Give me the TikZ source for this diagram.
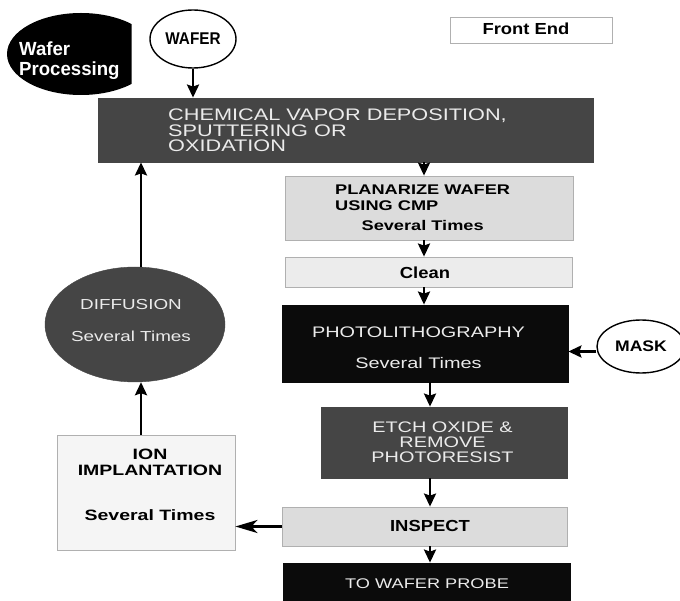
\documentclass[tikz,border=0pt]{standalone}
\usepackage{fontspec}
\usetikzlibrary{arrows.meta,shapes.geometric}
\newfontfamily\rgf{Liberation Sans}[FakeStretch=1.3]
\newfontfamily\bdA{Liberation Sans}[FakeStretch=1.3]
\newfontfamily\bdB{Liberation Sans}[FakeStretch=1.15]
\newfontfamily\bdC{Liberation Sans}[FakeStretch=0.9]
\newfontfamily\bdD{Liberation Sans}[FakeStretch=0.98]
\definecolor{darkbox}{HTML}{454545}
\definecolor{blackbox}{HTML}{0B0B0B}
\definecolor{lightbox}{HTML}{DCDCDC}
\definecolor{paler}{HTML}{ECECEC}
\definecolor{palest}{HTML}{F5F5F5}
\definecolor{edge}{HTML}{B0B0B0}
\definecolor{lighttext}{HTML}{EBEBEB}
\begin{document}
\begin{tikzpicture}[x=1pt,y=-1pt,
  box/.style={rectangle, inner sep=0pt, draw=edge, line width=0.8pt},
  oval/.style={ellipse, inner sep=0pt, draw=black, line width=1.4pt, fill=white},
  txt/.style={inner sep=0pt},
  arr/.style={line width=2.6pt, -{Stealth[length=13pt,width=12pt,inset=2pt]}},
  longarr/.style={line width=2.6pt, -{Stealth[length=22pt,width=13pt,inset=6pt]}}]
\useasboundingbox (0,0) rectangle (680,601);
\fill[white] (0,0) rectangle (680,601);

% Wafer Processing badge
\begin{scope}
  \clip (0,0) rectangle (131.5,120);
  \fill[black] (81,54) ellipse [x radius=74pt, y radius=41pt];
\end{scope}
\node[txt, anchor=west, text=white, align=left,
      font=\bdD\bfseries\fontsize{19}{19.5}\selectfont] (wp) at (19,60.5) {Wafer\\Processing};

% Front End
\node[box, fill=white, minimum width=162pt, minimum height=26pt] (front) at (531,30) {};
\node[txt, font=\bdB\bfseries\fontsize{16}{18}\selectfont] (frontt) at (526,29) {Front End};

% WAFER
\node[oval, minimum width=86pt, minimum height=58pt,
      font=\bdC\bfseries\fontsize{17}{19}\selectfont] (wafer) at (193,39) {WAFER};

% CVD
\node[box, draw=darkbox, fill=darkbox, minimum width=495pt, minimum height=64pt] (cvd) at (345.5,130) {};
\node[txt, anchor=west, align=left, text=lighttext,
      font=\rgf\fontsize{16.7}{15.5}\selectfont] (cvdt) at (168,130.5)
      {CHEMICAL VAPOR DEPOSITION,\\SPUTTERING OR\\OXIDATION};

% Planarize
\node[box, fill=lightbox, minimum width=288pt, minimum height=64pt] (planar) at (429,208) {};
\node[txt, anchor=base west, font=\bdA\bfseries\fontsize{14}{16}\selectfont] (planart) at (335,195)
      {\begin{tabular}[t]{@{}l@{}}PLANARIZE WAFER\\USING CMP\\[4pt]\multicolumn{1}{@{}c@{}}{Several Times}\end{tabular}};

% Clean
\node[box, fill=paler, minimum width=287pt, minimum height=30pt] (clean) at (428.5,272) {};
\node[txt, font=\bdB\bfseries\fontsize{16}{18}\selectfont] (cleant) at (425,272.3) {Clean};

% Photolithography
\node[box, draw=blackbox, fill=blackbox, minimum width=286pt, minimum height=77pt] (photo) at (425,343.5) {};
\node[txt, align=center, text=lighttext,
      font=\rgf\fontsize{15.3}{31}\selectfont] (photot) at (418.5,348) {PHOTOLITHOGRAPHY\\Several Times};

% Mask
\node[oval, minimum width=88pt, minimum height=53pt,
      font=\bdB\bfseries\fontsize{15.3}{17}\selectfont] (mask) at (641,346.5) {MASK};

% Etch
\node[box, draw=darkbox, fill=darkbox, minimum width=246pt, minimum height=71pt] (etch) at (444,442.5) {};
\node[txt, align=center, text=lighttext,
      font=\rgf\fontsize{15.3}{15.3}\selectfont] (etcht) at (442.5,442.4) {ETCH OXIDE \&\\REMOVE\\PHOTORESIST};

% Inspect
\node[box, fill=lightbox, minimum width=285pt, minimum height=39pt] (inspect) at (424.5,526.5) {};
\node[txt, font=\bdB\bfseries\fontsize{16}{18}\selectfont] (inspectt) at (430,525.8) {INSPECT};

% To wafer probe
\node[box, draw=blackbox, fill=blackbox, minimum width=287pt, minimum height=44pt] (probe) at (426.5,585) {};
\node[txt, text=lighttext, font=\rgf\fontsize{14}{16}\selectfont] (probet) at (427,583.3) {TO WAFER PROBE};

% Ion implantation
\node[box, fill=palest, minimum width=178pt, minimum height=115pt] (ion) at (146,492.5) {};
\node[txt, anchor=base, font=\bdA\bfseries\fontsize{15}{15.7}\selectfont] (iont) at (150,459.3)
      {\begin{tabular}[t]{@{}c@{}}ION\\IMPLANTATION\\[29.3pt]Several Times\end{tabular}};

% Diffusion
\node[ellipse, inner sep=0pt, draw=darkbox, fill=darkbox, minimum width=180pt, minimum height=115pt] (diff) at (135,324.5) {};
\node[txt, align=center, text=lighttext,
      font=\rgf\fontsize{14.5}{31.7}\selectfont] (difft) at (131,320.8) {DIFFUSION\\Several Times};

% column coordinates
\coordinate (c1) at (424,0);
\coordinate (c2) at (430,0);
\coordinate (c3) at (141,0);

% connectors
\draw[arr] (wafer.south) -- (wafer.south |- cvd.north);
\draw[arr] (c1 |- cvd.south) -- (c1 |- planar.north);
\draw[arr] (c1 |- planar.south) -- (c1 |- clean.north);
\draw[arr] (c1 |- clean.south) -- (c1 |- photo.north);
\draw[arr] (c2 |- photo.south) -- (c2 |- etch.north);
\draw[arr] (c2 |- etch.south) -- (c2 |- inspect.north);
\draw[arr] (c2 |- inspect.south) -- (c2 |- probe.north);
\draw[arr] ([yshift=-5pt]mask.west) -- ([yshift=-5pt]photo.east |- mask.west);
\draw[longarr] (inspect.west) -- (ion.east |- inspect.west);
\draw[arr] (c3 |- ion.north) -- (c3 |- diff.south);
\draw[arr] (c3 |- diff.north) -- (c3 |- cvd.south);
\end{tikzpicture}
\end{document}
